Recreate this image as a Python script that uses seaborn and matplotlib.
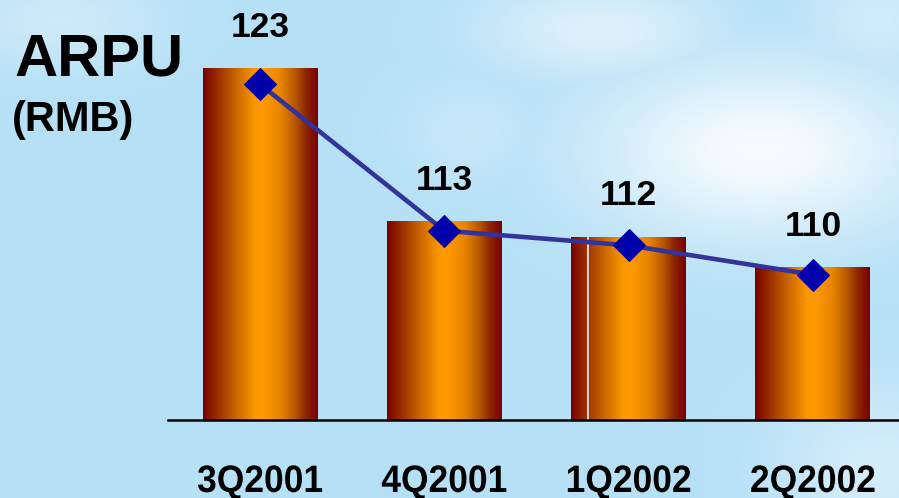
import numpy as np
import matplotlib
matplotlib.use("Agg")
import matplotlib.pyplot as plt
import seaborn as sns
from matplotlib.colors import LinearSegmentedColormap
from matplotlib.patheffects import AbstractPathEffect
from matplotlib.transforms import Affine2D

# ---- data ----
quarters = ["3Q2001", "4Q2001", "1Q2002", "2Q2002"]
arpu = [123, 113, 112, 110]
title_main = "ARPU"
title_unit = "(RMB)"

W, H = 899, 498
fig = plt.figure(figsize=(W / 100, H / 100), dpi=100)

# ---- sky background ----
yy, xx = np.mgrid[0:H, 0:W].astype(float)
base = np.array([181, 224, 246]) / 255.0
white = np.array([250, 253, 255]) / 255.0
w = np.zeros((H, W))
for cx, cy, sx, sy, s in [(760, 150, 170, 90, 0.95), (600, 30, 120, 50, 0.6),
                          (880, 470, 110, 90, 0.45), (60, 20, 110, 50, 0.35),
                          (470, 130, 80, 60, 0.25), (880, 20, 80, 60, 0.4)]:
    w = np.maximum(w, s * np.exp(-(((xx - cx) / sx) ** 2 + ((yy - cy) / sy) ** 2)))
bg = base[None, None, :] * (1 - w[..., None]) + white[None, None, :] * w[..., None]
bgax = fig.add_axes([0, 0, 1, 1], zorder=-5)
bgax.imshow(bg, aspect="auto", extent=(0, W, H, 0))
bgax.set_axis_off()

# ---- main axes ----
YLO, YHI = 100.09, 127.47
ax = fig.add_axes([168 / W, 78 / H, (W - 168) / W, 420 / H])
ax.patch.set_alpha(0)
idx = np.arange(len(quarters))
sns.barplot(x=idx, y=arpu, ax=ax, width=0.624, color="#ff9900", native_scale=True)

cmap = LinearSegmentedColormap.from_list("cyl", [
    (0.0, "#7a0000"), (0.12, "#982c00"), (0.28, "#c86400"), (0.45, "#fb9600"),
    (0.52, "#ff9a00"), (0.68, "#e88400"), (0.80, "#b85800"), (0.90, "#8c2400"),
    (1.0, "#780000")])
grad = np.linspace(0, 1, 256)[None, :]
for p in ax.patches:
    x0, wd, h = p.get_x(), p.get_width(), p.get_height()
    p.set_facecolor("none")
    p.set_edgecolor("none")
    ax.imshow(grad, cmap=cmap, aspect="auto", extent=(x0, x0 + wd, YLO, h),
              interpolation="bilinear", zorder=1)

# thin light seam visible in the 1Q2002 bar
p3 = ax.patches[2]
ax.vlines(p3.get_x() + 0.148 * p3.get_width(), YLO, p3.get_height(),
          color="#e8f4fa", linewidth=1.2, zorder=2)

ax.set_xlim(-0.5, 3.467)
ax.set_ylim(YLO, YHI)
for s in ["top", "left", "right"]:
    ax.spines[s].set_visible(False)
ax.spines["bottom"].set_linewidth(1.8)
ax.spines["bottom"].set_color("black")
ax.spines["bottom"].set_zorder(3)
ax.set_xticks([])
ax.set_yticks([])
ax.set_xlabel("")
ax.set_ylabel("")

num_font = "Liberation Sans"
for i, v in enumerate(arpu):
    ax.annotate(str(v), xy=(i, v), xytext=(0, 23), textcoords="offset points",
                ha="center", va="baseline", fontsize=25.5, fontweight="bold",
                family=num_font, color="black", zorder=6)

# ---- line on secondary scale ----
ax2 = ax.twinx()
ax2.patch.set_alpha(0)
sns.lineplot(x=idx, y=arpu, ax=ax2, color="#333399", linewidth=3.3,
             marker="D", markersize=16.5, markerfacecolor="#0000aa",
             markeredgecolor="#0000aa", zorder=5)
ax2.set_xlim(-0.5, 3.467)
ax2.set_ylim(100.07, 128.76)
for s in ax2.spines.values():
    s.set_visible(False)
ax2.set_yticks([])
ax2.set_ylabel("")
ax2.set_zorder(ax.get_zorder() + 1)


# ---- category labels (slightly tall bold) ----
class VStretch(AbstractPathEffect):
    def __init__(self, sy):
        super().__init__()
        self.sy = sy

    def draw_path(self, renderer, gc, tpath, affine, rgbFace=None):
        renderer.draw_path(gc, tpath, Affine2D().scale(1, self.sy) + affine, rgbFace)


for i, q in enumerate(quarters):
    ax.text(i, -72 / 420, q, transform=ax.get_xaxis_transform(), ha="center",
            va="baseline", fontsize=25.5, fontweight="bold", family=num_font,
            color="black", path_effects=[VStretch(1.08)], clip_on=False)

fig.text(15 / W, 1 - 75 / H, title_main, fontsize=43, fontweight="bold",
         family=num_font, ha="left", va="baseline")
fig.text(12 / W, 1 - 131 / H, title_unit, fontsize=30, fontweight="bold",
         family=num_font, ha="left", va="baseline")

fig.savefig("out.png", dpi=100)
